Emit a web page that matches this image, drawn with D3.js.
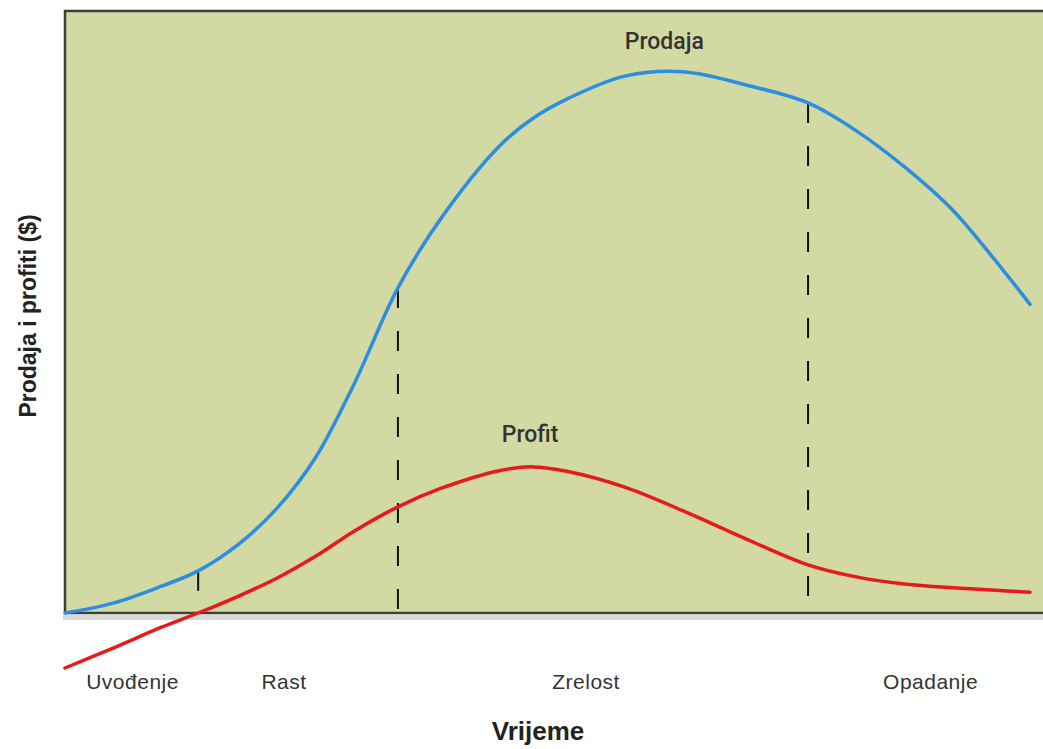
<!DOCTYPE html>
<html>
<head>
<meta charset="utf-8">
<title>Životni ciklus proizvoda</title>
<script src="https://cdn.jsdelivr.net/npm/d3@7"></script>
<style>
  html, body { margin: 0; padding: 0; background: #fff; }
  svg { display: block; }
  .lbl { font-family: "Liberation Sans", Arial, sans-serif; fill: #333; }
</style>
</head>
<body>
<svg id="chart" width="1043" height="749"></svg>
<script>
// vrijeme (0..100) i vrijednosti krivulja
var time    = [0, 5, 10, 13.8, 18, 22, 26, 30, 34.5, 39, 45, 48.5, 52, 58, 64, 71, 77, 82, 87, 92, 96, 100];
var prodaja = [0, 1.8, 4.9, 7.7, 12.6, 19.2, 28.5, 42.0, 59.4, 72.2, 85.3, 90.4, 93.9, 98.1, 98.9, 96.3, 93.2, 88.1, 81.5, 73.6, 65.3, 56.4];
var profit  = [-10.05, -6.4, -2.6, 0, 3.1, 6.4, 10.4, 15.0, 19.4, 22.8, 26.0, 26.7, 25.9, 23.0, 18.7, 13.2, 8.8, 6.6, 5.3, 4.6, 4.2, 3.8];

var stages       = ["Uvođenje", "Rast", "Zrelost", "Opadanje"];
var stageBounds  = [13.8, 34.5, 77];       // granice faza (vrijeme)
var stageCenters = [7, 22.7, 54, 89.7];    // gdje stoje nazivi faza

var svg = d3.select("#chart");

var x = d3.scaleLinear().domain([0, 100]).range([65, 1030]);
var y = d3.scaleLinear().domain([0, 110]).range([613, 11]);

// podloga
svg.append("rect")
  .attr("x", 65).attr("y", 11)
  .attr("width", 1043 - 65).attr("height", 613 - 11)
  .attr("fill", "#d3d9a3");

// sjena ispod osi
svg.append("rect")
  .attr("x", 63).attr("y", 615)
  .attr("width", 1043 - 63).attr("height", 5)
  .attr("fill", "#d9dad5");

// okvir: gore i lijevo
svg.append("path")
  .attr("d", "M65," + 613 + "V11H1043")
  .attr("fill", "none")
  .attr("stroke", "#3d4135")
  .attr("stroke-width", 2.5);

// os x
svg.append("line")
  .attr("x1", 64).attr("x2", 1043)
  .attr("y1", y(0)).attr("y2", y(0))
  .attr("stroke", "#3d4135")
  .attr("stroke-width", 2.5);

// isprekidane granice faza, od krivulje prodaje do osi
svg.selectAll(".granica")
  .data(stageBounds)
  .enter().append("line")
  .attr("class", "granica")
  .attr("x1", function (d) { return x(d); })
  .attr("x2", function (d) { return x(d); })
  .attr("y1", function (d) { return y(prodaja[time.indexOf(d)]); })
  .attr("y2", y(0))
  .attr("stroke", "#111")
  .attr("stroke-width", 2)
  .attr("stroke-dasharray", "20,23");

var line = function (vals) {
  return d3.line()
    .x(function (d, i) { return x(time[i]); })
    .y(function (d) { return y(d); })
    .curve(d3.curveCatmullRom.alpha(0.5))(vals);
};

svg.append("path")
  .attr("d", line(profit))
  .attr("fill", "none")
  .attr("stroke", "#e8191b")
  .attr("stroke-width", 3.5)
  .attr("stroke-linecap", "round");

svg.append("path")
  .attr("d", line(prodaja))
  .attr("fill", "none")
  .attr("stroke", "#2b8ee0")
  .attr("stroke-width", 3.5)
  .attr("stroke-linecap", "round");

// nazivi krivulja
svg.append("text")
  .attr("class", "lbl")
  .attr("x", x(62.1)).attr("y", 49)
  .attr("text-anchor", "middle")
  .style("font-family", "Roboto, sans-serif")
  .style("font-weight", 500)
  .style("font-size", "23px")
  .text("Prodaja");

svg.append("text")
  .attr("class", "lbl")
  .attr("x", x(48.2)).attr("y", 442)
  .attr("text-anchor", "middle")
  .style("font-family", "Roboto, sans-serif")
  .style("font-weight", 500)
  .style("font-size", "23px")
  .text("Profit");

// nazivi faza
svg.selectAll(".faza")
  .data(stages)
  .enter().append("text")
  .attr("class", "lbl faza")
  .attr("x", function (d, i) { return x(stageCenters[i]); })
  .attr("y", 689)
  .attr("text-anchor", "middle")
  .style("font-size", "21px")
  .style("letter-spacing", "0.5px")
  .text(function (d) { return d; });

// naslovi osi
svg.append("text")
  .attr("class", "lbl")
  .attr("x", 538).attr("y", 740)
  .attr("text-anchor", "middle")
  .style("font-size", "26px")
  .style("font-weight", "bold")
  .style("fill", "#222")
  .text("Vrijeme");

svg.append("text")
  .attr("class", "lbl")
  .attr("transform", "translate(36,316) rotate(-90)")
  .attr("text-anchor", "middle")
  .style("font-size", "23px")
  .style("font-weight", "bold")
  .style("fill", "#222")
  .text("Prodaja i profiti ($)");
</script>
</body>
</html>
